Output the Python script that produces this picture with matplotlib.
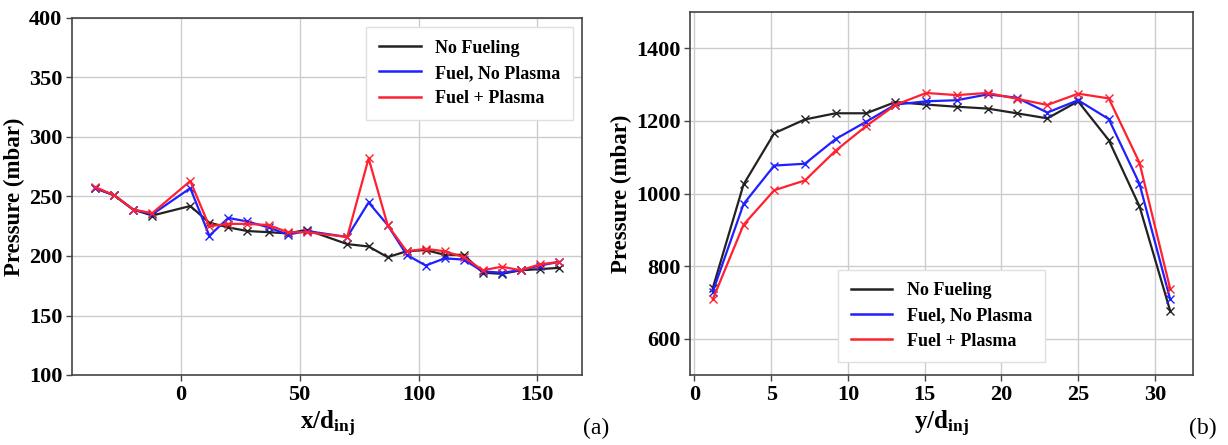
import matplotlib
matplotlib.use("Agg")
import matplotlib.pyplot as plt
from matplotlib.lines import Line2D

# Streamwise wall-pressure profile (panel a)
x_pos = [-36, -28, -20, -12, 4, 12, 20, 28, 37, 45, 53, 70, 79, 87, 95,
         103, 111, 119, 127, 135, 143, 151, 159]
p_x_nofuel = [257, 251, 239, 234, 242, 228, 224, 221, 220, 219, 222, 210, 208,
              199, 204, 205, 201, 201, 186, 185, 188, 189, 190]
p_x_fuel = [257, 251, 239, 235, 257, 217, 232, 229, 224, 218, 221, 216, 245,
            226, 201, 192, 198, 197, 187, 186, 188, 192, 195]
p_x_plasma = [258, 251, 239, 236, 263, 225, 227, 227, 226, 220, 220, 216, 282,
              226, 204, 206, 204, 199, 188, 191, 188, 193, 195]

# Spanwise pressure profile (panel b)
y_pos = [1.2, 3.2, 5.2, 7.2, 9.2, 11.2, 13.1, 15.1, 17.1, 19.1, 21.0, 23.0,
         25.0, 27.0, 29.0, 31.0]
p_y_nofuel = [740, 1025, 1166, 1204, 1221, 1221, 1252, 1245, 1239, 1234, 1221,
              1207, 1254, 1147, 965, 677]
p_y_fuel = [730, 971, 1077, 1082, 1150, 1198, 1245, 1254, 1257, 1273, 1264,
            1223, 1257, 1205, 1027, 709]
p_y_plasma = [709, 914, 1009, 1036, 1118, 1186, 1244, 1277, 1271, 1277, 1261,
              1244, 1275, 1262, 1085, 738]

labels = ["No Fueling", "Fuel, No Plasma", "Fuel + Plasma"]
colors = ["#222222", "#2020ff", "#ff2030"]

plt.rcParams["font.family"] = ["Liberation Serif", "DejaVu Serif"]
plt.rcParams["font.weight"] = "bold"
plt.rcParams["axes.labelweight"] = "bold"
plt.rcParams["mathtext.fontset"] = "custom"
plt.rcParams["mathtext.rm"] = "Liberation Serif:bold"
plt.rcParams["mathtext.bf"] = "Liberation Serif:bold"
plt.rcParams["mathtext.it"] = "Liberation Serif:bold"

fig = plt.figure(figsize=(12.28, 4.45), dpi=100)
ax1 = fig.add_axes([72 / 1228, 1 - 375 / 445, 510 / 1228, 357 / 445])
ax2 = fig.add_axes([690 / 1228, 1 - 375 / 445, 503 / 1228, 363 / 445])


def style(ax):
    ax.grid(True, color="#cccccc", linewidth=1.0)
    ax.set_axisbelow(True)
    for s in ax.spines.values():
        s.set_color("#444444")
        s.set_linewidth(1.2)
    ax.tick_params(labelsize=16, length=4, width=1, color="#444444", pad=3)
    for t in ax.get_xticklabels() + ax.get_yticklabels():
        t.set_fontweight("bold")


def line_handles():
    return [Line2D([], [], color=c, lw=1.8) for c in colors]


series_x = [p_x_nofuel, p_x_fuel, p_x_plasma]
for vals, c in zip(series_x, colors):
    ax1.plot(x_pos, vals, color=c, lw=1.6, marker="x", ms=6, mew=1.0)
ax1.set_ylim(100, 400)
ax1.set_xticks([0, 50, 100, 150])
ax1.set_yticks([100, 150, 200, 250, 300, 350, 400])
ax1.set_ylabel("Pressure (mbar)", fontsize=16.5, labelpad=3)
ax1.set_xlabel(r"x/d$_{\mathrm{inj}}$", fontsize=18, labelpad=3)
style(ax1)
leg1 = ax1.legend(line_handles(), labels, loc="upper right", fontsize=13,
                  handlelength=2.3, handletextpad=0.8, labelspacing=0.45,
                  borderpad=0.7, fancybox=False, framealpha=1.0)
leg1.get_frame().set_edgecolor("#e0e0e0")

series_y = [p_y_nofuel, p_y_fuel, p_y_plasma]
for vals, c in zip(series_y, colors):
    ax2.plot(y_pos, vals, color=c, lw=1.6, marker="x", ms=6, mew=1.0)
ax2.set_ylim(500, 1500)
ax2.set_xticks([0, 5, 10, 15, 20, 25, 30])
ax2.set_yticks([600, 800, 1000, 1200, 1400])
ax2.set_ylabel("Pressure (mbar)", fontsize=16.5, labelpad=3)
ax2.set_xlabel(r"y/d$_{\mathrm{inj}}$", fontsize=18, labelpad=3)
style(ax2)
leg2 = ax2.legend(line_handles(), labels, loc="lower center",
                  bbox_to_anchor=(0.5, 0.01), fontsize=13, handlelength=2.3,
                  handletextpad=0.8, labelspacing=0.45, borderpad=0.7,
                  fancybox=False, framealpha=1.0)
leg2.get_frame().set_edgecolor("#e0e0e0")

fig.text(596 / 1228, 1 - 428 / 445, "(a)", fontsize=17, fontweight="normal",
         ha="center", va="center")
fig.text(1203 / 1228, 1 - 428 / 445, "(b)", fontsize=17, fontweight="normal",
         ha="center", va="center")

fig.savefig("out.png", dpi=100, facecolor="white")
